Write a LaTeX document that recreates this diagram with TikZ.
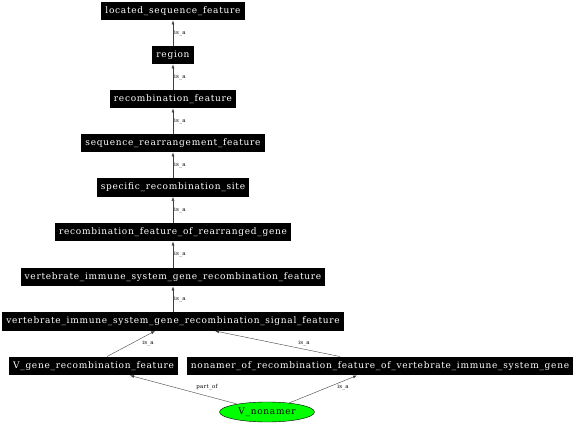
\documentclass[tikz,border=0pt]{standalone}
\usepackage{fontspec}
\setmainfont{Liberation Serif}
\newfontfamily\termfont[LetterSpace=8]{DejaVu Serif}
\newfontfamily\lblfont[LetterSpace=5]{DejaVu Serif}
\usetikzlibrary{shapes.geometric, arrows.meta}
\definecolor{nodegreen}{RGB}{0,255,0}
\tikzset{
  term/.style={fill=black, text=white, font=\termfont\fontsize{9}{10}\selectfont, inner xsep=4pt, inner ysep=0pt, minimum height=18.5pt},
  edge/.style={-{Latex[length=4pt,width=3pt]}, line width=0.4pt, draw=black!75},
  lbl/.style={font=\lblfont\fontsize{5.5}{6}\selectfont, inner sep=1pt}
}
\begin{document}
\begin{tikzpicture}[x=1pt, y=-1pt]
\useasboundingbox (0,0) rectangle (576,425);
\node [term] (lsf) at (173,11) {located\_sequence\_feature};
\node [term] (reg) at (173,55) {region};
\node [term] (rf) at (173,99) {recombination\_feature};
\node [term] (srf) at (173,143) {sequence\_rearrangement\_feature};
\node [term] (srs) at (173,187.5) {specific\_recombination\_site};
\node [term] (rfrg) at (173,232) {recombination\_feature\_of\_rearranged\_gene};
\node [term] (visgrf) at (173,277) {vertebrate\_immune\_system\_gene\_recombination\_feature};
\node [term] (visgrsf) at (173,321.5) {vertebrate\_immune\_system\_gene\_recombination\_signal\_feature};
\node [term] (vgrf) at (93.5,366) {V\_gene\_recombination\_feature};
\node [term] (nrf) at (380,366) {nonamer\_of\_recombination\_feature\_of\_vertebrate\_immune\_system\_gene};
\node [ellipse, draw=black, fill=nodegreen, font=\termfont\fontsize{9}{10}\selectfont, minimum width=95pt, minimum height=20pt, inner sep=0pt] (vnon) at (267,412) {V\_nonamer};
% chain of is_a edges
\draw [edge] (reg) -- node [lbl, midway, right] {is\_a} (lsf);
\draw [edge] (rf) -- node [lbl, midway, right] {is\_a} (reg);
\draw [edge] (srf) -- node [lbl, midway, right] {is\_a} (rf);
\draw [edge] (srs) -- node [lbl, midway, right] {is\_a} (srf);
\draw [edge] (rfrg) -- node [lbl, midway, right] {is\_a} (srs);
\draw [edge] (visgrf) -- node [lbl, midway, right] {is\_a} (rfrg);
\draw [edge] (visgrsf) -- node [lbl, midway, right] {is\_a} (visgrf);
% lower edges
\draw [edge] ([xshift=13.5pt]vgrf.north) -- ([xshift=-18pt]visgrsf.south);
\draw [edge] ([xshift=-40pt]nrf.north) -- ([xshift=42pt]visgrsf.south);
\draw [edge] (vnon) -- ([xshift=36.5pt]vgrf.south);
\draw [edge] (vnon) -- ([xshift=-23pt]nrf.south);
\node [lbl] at (148,343) {is\_a};
\node [lbl] at (304,343) {is\_a};
\node [lbl] at (207,387) {part\_of};
\node [lbl] at (343,387) {is\_a};
\end{tikzpicture}
\end{document}
